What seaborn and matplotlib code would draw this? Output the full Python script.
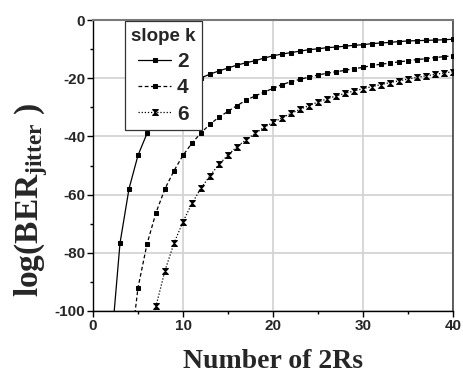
import matplotlib
matplotlib.use("Agg")
import matplotlib.pyplot as plt
import seaborn as sns
import pandas as pd
from matplotlib.path import Path

# ---- data ----
slopes = ["2", "4", "6"]
x_k2 = list(range(2, 41))
y_k2 = [-113, -76.7, -58, -46.5, -39, -33.5, -29.3, -26, -23.5, -21.5, -19.9, -18.6,
        -17.5, -16.5, -15.5, -14.7, -14.0, -13.1, -12.3, -11.7, -11.2, -10.7, -10.2,
        -9.9, -9.5, -9.3, -9.0, -8.7, -8.5, -8.1, -7.9, -7.7, -7.4, -7.2, -7.1, -7.0,
        -6.9, -6.8, -6.6]
x_k4 = list(range(4, 41))
y_k4 = [-118, -92, -77, -66.2, -58, -51.8, -46.5, -42.3, -38.8, -35.8, -33.4, -31.4,
        -29.4, -27.6, -26.1, -24.8, -23.5, -22.2, -21.2, -20.4, -19.6, -18.9, -18.3,
        -17.8, -17.3, -16.7, -16.3, -15.6, -15.2, -14.8, -14.4, -14.0, -13.6, -13.3,
        -12.9, -12.6, -12.3]
x_k6 = list(range(6, 41))
y_k6 = [-122, -98.3, -86.1, -76.7, -69.3, -63, -57.8, -53.5, -49.6, -46.4, -43.5,
        -41.2, -39, -36.9, -35.2, -33.6, -32.1, -30.7, -29.4, -28.2, -27.1, -26.1,
        -25.2, -24.4, -23.6, -22.9, -22.2, -21.5, -20.9, -20.3, -19.7, -19.2, -18.7,
        -18.2, -17.8]
x_ticks = [0, 10, 20, 30, 40]
y_ticks = [0, -20, -40, -60, -80, -100]

df = pd.concat([
    pd.DataFrame({"x": x_k2, "y": y_k2, "k": slopes[0]}),
    pd.DataFrame({"x": x_k4, "y": y_k4, "k": slopes[1]}),
    pd.DataFrame({"x": x_k6, "y": y_k6, "k": slopes[2]}),
])

sns.set_style("ticks")
plt.rcParams["font.family"] = ["Liberation Sans", "DejaVu Sans"]
plt.rcParams["mathtext.fontset"] = "custom"
plt.rcParams["mathtext.rm"] = "Liberation Serif"
plt.rcParams["mathtext.bf"] = "Liberation Serif:bold"
plt.rcParams["mathtext.it"] = "Liberation Serif:italic"

fig = plt.figure(figsize=(4.63, 3.78), dpi=100)
ax = fig.add_axes([93 / 463, 1 - 311 / 378, 360 / 463, 291 / 378])

# hourglass marker for k=6
hg = Path([(-1, 1), (1, 1), (0, 0), (1, -1), (-1, -1), (0, 0), (-1, 1)],
          [Path.MOVETO, Path.LINETO, Path.LINETO, Path.LINETO, Path.LINETO, Path.LINETO, Path.CLOSEPOLY])

styles = {
    "2": dict(ls="-", marker="s", ms=3.2),
    "4": dict(ls=(0, (3, 2)), marker="s", ms=3.2),
    "6": dict(ls=(0, (1, 1.5)), marker=hg, ms=4.2),
}
for k in slopes:
    st = styles[k]
    sns.lineplot(data=df[df["k"] == k], x="x", y="y", ax=ax, color="black",
                 linestyle=st["ls"], marker=st["marker"], markersize=st["ms"],
                 markeredgecolor="black", markerfacecolor="black", lw=0.9,
                 label=k, zorder=3)

ax.set_xlim(0, 40)
ax.set_ylim(-100, 0)
ax.set_xticks(x_ticks)
ax.set_yticks(y_ticks)
ax.set_xticks([5, 15, 25, 35], minor=True)
ax.set_yticks([-10, -30, -50, -70, -90], minor=True)
ax.set_xticklabels([str(v) for v in x_ticks], fontsize=11, fontweight="bold")
ax.set_yticklabels([str(v) for v in y_ticks], fontsize=11, fontweight="bold")
ax.grid(True, which="major", color="#d4d4d4", lw=1.3, zorder=0)
ax.set_axisbelow(True)

ax.tick_params(axis="both", which="major", length=4, width=1,
               direction="out", color="black", pad=1.5)
ax.tick_params(axis="both", which="minor", length=2.5, width=1, direction="out",
               color="black")

for s in ["left", "bottom"]:
    ax.spines[s].set_color("black")
    ax.spines[s].set_linewidth(1)
ax.spines["top"].set_color("#7a7a7a")
ax.spines["top"].set_linewidth(1.5)
ax.spines["right"].set_color("#444444")
ax.spines["right"].set_linewidth(1.2)

ax.set_xlabel("Number of 2Rs", fontfamily="Liberation Serif", fontweight="bold",
              fontsize=20, labelpad=12)
ax.set_ylabel(r"$\mathbf{log(BER}_{\mathbf{jitter}}\mathbf{\ )}$", fontsize=24)
ax.yaxis.set_label_coords(-0.12, 0.38)

leg = ax.legend(title="slope k", loc="upper left", bbox_to_anchor=(0.089, 0.995),
                frameon=True, fancybox=False, framealpha=1, edgecolor="#333333",
                prop={"weight": "bold", "size": 15}, handlelength=1.55,
                handletextpad=0.3, labelspacing=0.35, borderpad=0.3,
                borderaxespad=0)
leg.get_title().set_fontweight("bold")
leg.get_title().set_fontsize(13.5)
leg.get_frame().set_linewidth(0.9)
leg.set_zorder(5)

fig.savefig("out.png", dpi=100)
